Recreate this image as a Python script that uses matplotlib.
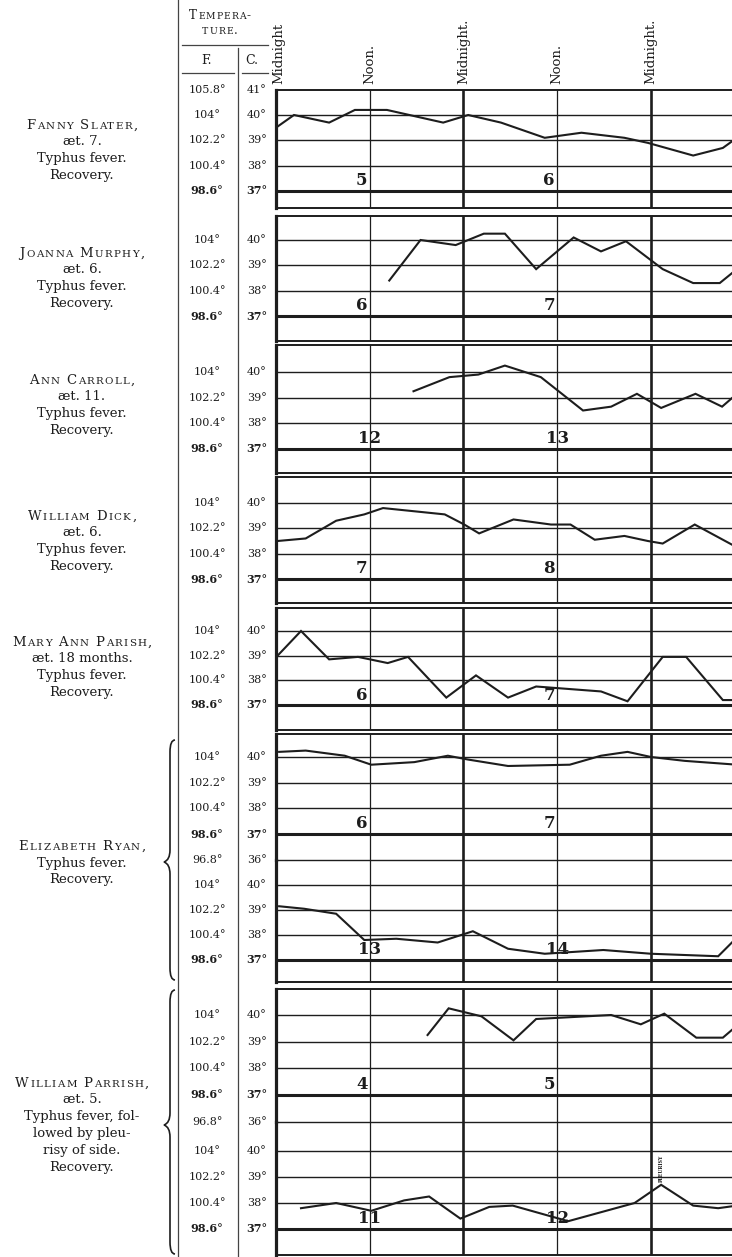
import matplotlib
matplotlib.use("Agg")
from matplotlib import pyplot as plt
from matplotlib.path import Path
from matplotlib.patches import PathPatch
from matplotlib.lines import Line2D
from matplotlib.transforms import blended_transform_factory, IdentityTransform

# Temperatures (deg C), against hours since the first midnight shown
fanny_hours = [0, 2.3, 6.8, 10.1, 14.2, 21.4, 24.6, 28.8, 34.4, 39.1, 44.6, 47.6, 53.4, 57.2, 59.0]
fanny_temp = [39.5, 40.0, 39.7, 40.2, 40.2, 39.7, 40.0, 39.7, 39.1, 39.3, 39.1, 38.9, 38.4, 38.7, 39.1]

joanna_hours = [14.5, 18.5, 23.0, 26.6, 29.3, 33.3, 38.1, 41.6, 44.8, 49.5, 53.4, 56.8, 59.0]
joanna_temp = [38.4, 40.0, 39.8, 40.25, 40.25, 38.85, 40.1, 39.55, 39.95, 38.85, 38.3, 38.3, 38.85]

carroll_hours = [17.6, 22.2, 25.9, 29.3, 33.9, 39.3, 42.9, 46.2, 49.3, 53.7, 57.1, 59.0]
carroll_temp = [39.25, 39.8, 39.9, 40.25, 39.8, 38.5, 38.65, 39.15, 38.6, 39.15, 38.65, 39.15]

dick_hours = [0.2, 3.8, 7.7, 11.3, 13.7, 21.6, 24.1, 26.0, 30.4, 35.2, 37.7, 40.8, 44.6, 47.6, 49.5, 53.6, 58.4]
dick_temp = [38.5, 38.6, 39.3, 39.55, 39.8, 39.55, 39.15, 38.8, 39.35, 39.15, 39.15, 38.55, 38.7, 38.5, 38.4, 39.15, 38.35]

mary_hours = [0.2, 3.2, 6.8, 10.5, 14.3, 16.9, 21.8, 25.6, 29.7, 33.3, 41.6, 45.0, 49.5, 52.5, 57.2, 59.0]
mary_temp = [39.0, 40.0, 38.85, 38.95, 38.7, 38.95, 37.3, 38.2, 37.3, 37.75, 37.55, 37.15, 38.95, 38.95, 37.2, 37.2]

ryan_hours_a = [0.4, 3.8, 8.8, 12.2, 17.7, 22.0, 24.6, 29.7, 37.6, 41.6, 45.0, 48.0, 52.3, 59.0]
ryan_temp_a = [40.2, 40.25, 40.05, 39.7, 39.8, 40.05, 39.9, 39.65, 39.7, 40.05, 40.2, 40.0, 39.85, 39.7]
ryan_hours_b = [0.4, 3.6, 7.7, 11.3, 15.4, 20.7, 25.2, 29.7, 34.4, 41.9, 48.0, 56.6, 59.0]
ryan_temp_b = [39.15, 39.05, 38.85, 37.8, 37.85, 37.7, 38.15, 37.45, 37.25, 37.4, 37.25, 37.15, 37.9]

parrish_hours_a = [19.4, 22.1, 26.3, 30.4, 33.3, 42.9, 46.7, 49.7, 53.8, 57.2, 59.0]
parrish_temp_a = [39.25, 40.25, 39.95, 39.05, 39.85, 40.0, 39.65, 40.05, 39.15, 39.15, 39.6]
parrish_hours_b = [3.2, 7.7, 12.2, 16.4, 19.6, 23.6, 27.3, 30.3, 37.4, 45.9, 49.3, 53.4, 56.6, 59.0]
parrish_temp_b = [37.8, 38.0, 37.7, 38.1, 38.25, 37.4, 37.85, 37.9, 37.3, 38.0, 38.7, 37.9, 37.8, 37.9]

first_days = [5, 6, 12, 7, 6, 6, 13, 4, 11]

names = ["Fanny Slater,", "Joanna Murphy,", "Ann Carroll,", "William Dick,",
         "Mary Ann Parish,", "Elizabeth Ryan,", "William Parrish,"]
notes = [
    ["æt. 7.", "Typhus fever.", "Recovery."],
    ["æt. 6.", "Typhus fever.", "Recovery."],
    ["æt. 11.", "Typhus fever.", "Recovery."],
    ["æt. 6.", "Typhus fever.", "Recovery."],
    ["æt. 18 months.", "Typhus fever.", "Recovery."],
    ["Typhus fever.", "Recovery."],
    ["æt. 5.", "Typhus fever, fol-", "lowed by pleu-", "risy of side.", "Recovery."],
]

header_hours = [0, 12, 24, 36, 48]
header_labels = ["Midnight", "Noon.", "Midnight.", "Noon.", "Midnight."]

W, H = 732, 1257
INK = "#1d1d1d"
plt.rcParams["font.family"] = ["DejaVu Serif"]

fig = plt.figure(figsize=(W / 100, H / 100), dpi=100)
fig.patch.set_facecolor("white")
renderer = fig.canvas.get_renderer()


def fx(px):
    return px / W


def fy(py):
    return 1 - py / H


GRID_LEFT = 276
HOURS_SHOWN = 58.37

# pixel layout of each strip: top, 40 deg line, 37 deg line, bottom, kind
strips = [
    (90, 115, 191, 208, "single"),
    (216, 240, 316, 341, "single"),
    (345, 372, 449, 473, "single"),
    (477, 503, 579, 603, "single"),
    (608, 631, 705, 730, "single"),
    (734, 757, 834, 859.7, "upper"),
    (859.7, 885, 960, 982, "lower"),
    (989, 1015, 1095, 1121.7, "upper"),
    (1121.7, 1151, 1229, 1255, "lower"),
]
series = [(fanny_hours, fanny_temp), (joanna_hours, joanna_temp),
          (carroll_hours, carroll_temp), (dick_hours, dick_temp),
          (mary_hours, mary_temp), (ryan_hours_a, ryan_temp_a),
          (ryan_hours_b, ryan_temp_b), (parrish_hours_a, parrish_temp_a),
          (parrish_hours_b, parrish_temp_b)]

axes = []
for (top, y40, y37, bottom, kind), (hrs, temps), day in zip(strips, series, first_days):
    d = (y37 - y40) / 3
    ax = fig.add_axes([fx(GRID_LEFT), fy(bottom), fx(W - GRID_LEFT), (bottom - top) / H])
    ax.patch.set_visible(False)
    ax.set_xlim(0, HOURS_SHOWN)
    ax.set_ylim(37 - (bottom - y37) / d, 40 + (y40 - top) / d)
    ax.set_xticks([])
    ax.set_yticks([])
    for sp in ax.spines.values():
        sp.set_color(INK)
        sp.set_linewidth(1.4)
    ax.spines["right"].set_visible(False)
    ax.spines["left"].set_linewidth(2.3)
    if kind == "upper":
        ax.spines["bottom"].set_visible(False)
    if kind == "lower":
        ax.spines["top"].set_visible(False)

    # grid: thin degree lines, heavy 37 deg line, noon and midnight rules
    for c in (40, 39, 38):
        ax.axhline(c, color=INK, lw=1.0)
    if kind == "upper":
        ax.axhline(36, color=INK, lw=1.0, clip_on=False)
    ax.axhline(37, color=INK, lw=2.2)
    for hr in (12, 36):
        ax.axvline(hr, color=INK, lw=0.9)
    for hr in (24, 48):
        ax.axvline(hr, color=INK, lw=1.9)

    ax.plot(hrs, temps, color=INK, lw=1.5, solid_joinstyle="miter")

    # day numbers beside the noon rules
    for k, hr in enumerate((12, 36)):
        lab = str(day + k)
        if len(lab) > 1:
            ax.text(hr, 37.4, lab, ha="center", va="center", fontsize=12,
                    fontweight="bold", color=INK)
        else:
            ax.text(hr - 0.3, 37.4, lab, ha="right", va="center", fontsize=12,
                    fontweight="bold", color=INK)

    # Fahrenheit / Celsius scale
    tr = blended_transform_factory(fig.transFigure, ax.transData)
    cs = [40, 39, 38, 37] + ([36] if kind == "upper" else [])
    if top == strips[0][0]:
        cs = [41] + cs
    for c in cs:
        f = c * 9 / 5 + 32
        w = "bold" if c == 37 else "normal"
        fig.text(fx(207), c, "{:g}°".format(round(f, 1)), ha="center", va="center",
                 fontsize=8, fontweight=w, color=INK, transform=tr)
        fig.text(fx(257), c, "{}°".format(c), ha="center", va="center",
                 fontsize=8, fontweight=w, color=INK, transform=tr)
    axes.append(ax)

# pleurisy note on the last strip
axes[-1].text(49.3, 38.82, "PLEURISY", rotation=90, ha="center", va="bottom",
              fontsize=3.4, fontweight="bold", color=INK)

# time-of-day heads
hdr = blended_transform_factory(axes[0].transData, fig.transFigure)
for hr, lab in zip(header_hours, header_labels):
    fig.text(hr + (0.4 if hr == 0 else 0), fy(84), lab, rotation=90, ha="center",
             va="bottom", fontsize=9.5, color=INK, transform=hdr)


def small_caps(cx, cy, s, size, track=1.3):
    # capitals at full size, lower case letters set as reduced capitals
    pieces, x = [], 0.0
    for ch in s:
        if ch == " ":
            x += size * 0.55
            continue
        t = fig.text(0, 0, ch.upper(), fontsize=size * 0.78 if ch.islower() else size,
                     color=INK, va="baseline", transform=IdentityTransform())
        wid = t.get_window_extent(renderer).width
        pieces.append((t, x))
        x += wid + track
    x -= track
    for t, off in pieces:
        t.set_position((cx - x / 2 + off, H - cy))


# patient captions
centres = [150, 278, 405, 541, 667, 863, 1125]
for name, lines, cy in zip(names, notes, centres):
    n = len(lines) + 1
    step = 16.8
    y0 = cy - step * (n - 1) / 2
    small_caps(82, y0 + 4, name, 9.5, track=1.4)
    for i, line in enumerate(lines):
        fig.text(fx(82), fy(y0 + step * (i + 1)), line, ha="center", va="center",
                 fontsize=9.5, color=INK)

# header of the scale columns
small_caps(220, 19, "Tempera-", 8.5, track=1.0)
small_caps(220, 34, "ture.", 8.5, track=1.0)
fig.text(fx(207), fy(60), "F.", ha="center", va="center", fontsize=9, color=INK)
fig.text(fx(252), fy(60), "C.", ha="center", va="center", fontsize=9, color=INK)

rules = [((178, 178), (0, H), 0.9), ((238, 238), (48, H), 0.9),
         ((182, 268), (45, 45), 0.9), ((182, 234), (73, 73), 0.9),
         ((242, 268), (73, 73), 0.9)]
for xs, ys, lw in rules:
    fig.add_artist(Line2D([fx(v) for v in xs], [fy(v) for v in ys],
                          transform=fig.transFigure, color="#444444", lw=lw))


def brace(x, top, bottom, tip):
    verts = [(x + 5, top), (x, top), (x, top + 12), (x, tip - 12), (x, tip - 2),
             (x - 6, tip), (x, tip + 2), (x, tip + 12), (x, bottom - 12),
             (x, bottom), (x + 5, bottom)]
    codes = [Path.MOVETO, Path.CURVE3, Path.CURVE3, Path.LINETO, Path.CURVE3,
             Path.CURVE3, Path.CURVE3, Path.CURVE3, Path.LINETO, Path.CURVE3, Path.CURVE3]
    path = Path([(fx(a), fy(b)) for a, b in verts], codes)
    fig.add_artist(PathPatch(path, transform=fig.transFigure, fill=False,
                             edgecolor=INK, lw=1.2))


brace(170, 740, 980, 862)
brace(170, 990, 1254, 1125)

fig.savefig("out.png", dpi=100, facecolor="white")
